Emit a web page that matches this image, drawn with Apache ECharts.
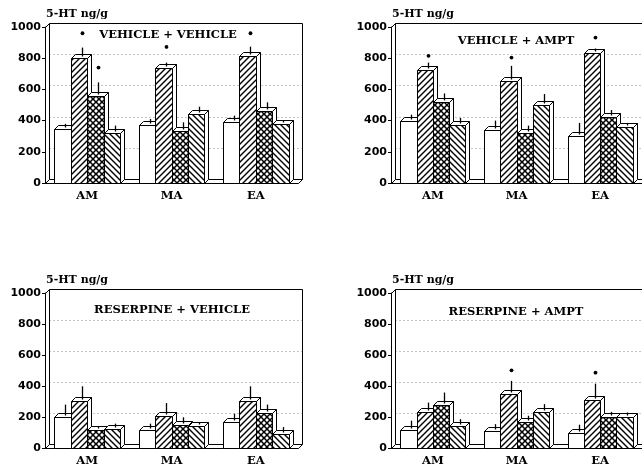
<!DOCTYPE html>
<html><head><meta charset="utf-8">
<script src="https://cdn.jsdelivr.net/npm/echarts@6/dist/echarts.min.js"></script>
<style>html,body{margin:0;padding:0;background:#fff}#c{width:642px;height:467px}</style>
</head><body><div id="c"></div>
<script>
var categories = ['AM', 'MA', 'EA'];
var panelTitles = ['VEHICLE + VEHICLE', 'VEHICLE + AMPT', 'RESERPINE + VEHICLE', 'RESERPINE + AMPT'];
var yAxisTitle = '5-HT ng/g';
var yMin = 0, yMax = 1000, yStep = 200;
var gridValues = [200, 400, 600, 800];

// -1 = no significance mark
// Panel 1: VEHICLE + VEHICLE
var p1Open = [347, 374, 389],  p1OpenErr = [379, 410, 432],  p1OpenStar = [-1, -1, -1];
var p1Fwd  = [804, 734, 815],  p1FwdErr  = [868, 772, 874],  p1FwdStar  = [960, 872, 960];
var p1Cross= [560, 332, 464],  p1CrossErr= [645, 389, 517],  p1CrossStar= [740, -1, -1];
var p1Back = [319, 443, 379],  p1BackErr = [368, 489, 400],  p1BackStar = [-1, -1, -1];
// Panel 2: VEHICLE + AMPT
var p2Open = [400, 340, 304],  p2OpenErr = [438, 400, 385],  p2OpenStar = [-1, -1, -1];
var p2Fwd  = [726, 651, 832],  p2FwdErr  = [772, 751, 862],  p2FwdStar  = [815, 804, 932];
var p2Cross= [517, 323, 421],  p2CrossErr= [574, 368, 468],  p2CrossStar= [-1, -1, -1];
var p2Back = [374, 502, 362],  p2BackErr = [417, 570, 385],  p2BackStar = [-1, -1, -1];
// Panel 3: RESERPINE + VEHICLE
var p3Open = [198, 118, 168],  p3OpenErr = [280, 157, 221],  p3OpenStar = [-1, -1, -1];
var p3Fwd  = [301, 209, 305],  p3FwdErr  = [398, 290, 398],  p3FwdStar  = [-1, -1, -1];
var p3Cross= [114, 150, 226],  p3CrossErr= [140, 198, 280],  p3CrossStar= [-1, -1, -1];
var p3Back = [123, 144, 92],   p3BackErr = [157, 166, 135],  p3BackStar = [-1, -1, -1];
// Panel 4: RESERPINE + AMPT
var p4Open = [116, 107, 96],   p4OpenErr = [176, 154, 150],  p4OpenStar = [-1, -1, -1];
var p4Fwd  = [233, 347, 310],  p4FwdErr  = [293, 433, 415],  p4FwdStar  = [-1, 501, 486];
var p4Cross= [276, 169, 197],  p4CrossErr= [358, 208, 233],  p4CrossStar= [-1, -1, -1];
var p4Back = [143, 233, 197],  p4BackErr = [186, 283, 229],  p4BackStar = [-1, -1, -1];

var panels = [
  [[p1Open, p1OpenErr, p1OpenStar], [p1Fwd, p1FwdErr, p1FwdStar], [p1Cross, p1CrossErr, p1CrossStar], [p1Back, p1BackErr, p1BackStar]],
  [[p2Open, p2OpenErr, p2OpenStar], [p2Fwd, p2FwdErr, p2FwdStar], [p2Cross, p2CrossErr, p2CrossStar], [p2Back, p2BackErr, p2BackStar]],
  [[p3Open, p3OpenErr, p3OpenStar], [p3Fwd, p3FwdErr, p3FwdStar], [p3Cross, p3CrossErr, p3CrossStar], [p3Back, p3BackErr, p3BackStar]],
  [[p4Open, p4OpenErr, p4OpenStar], [p4Fwd, p4FwdErr, p4FwdStar], [p4Cross, p4CrossErr, p4CrossStar], [p4Back, p4BackErr, p4BackStar]]
];

var grids = [
  {left: 45, top: 27, width: 253, height: 156},
  {left: 391, top: 27, width: 251, height: 156},
  {left: 45, top: 293, width: 253, height: 155},
  {left: 391, top: 293, width: 251, height: 156}
];
var titlePos = [[168, 35], [516, 41], [172, 310], [516, 312]];

var DX = 4, DY = 4, BARW = 0.195;

function makePattern(kind) {
  var s = 6, c = document.createElement('canvas');
  c.width = s; c.height = s;
  var g = c.getContext('2d');
  g.fillStyle = '#fff'; g.fillRect(0, 0, s, s);
  g.strokeStyle = '#000';
  g.lineWidth = kind === 'cross' ? 1.5 : 1.4;
  function fwd() {
    g.beginPath();
    g.moveTo(-1, s + 1); g.lineTo(s + 1, -1);
    g.moveTo(-1, 1); g.lineTo(1, -1);
    g.moveTo(s - 1, s + 1); g.lineTo(s + 1, s - 1);
    g.stroke();
  }
  function back() {
    g.beginPath();
    g.moveTo(-1, -1); g.lineTo(s + 1, s + 1);
    g.moveTo(s - 1, -1); g.lineTo(s + 1, 1);
    g.moveTo(-1, s - 1); g.lineTo(1, s + 1);
    g.stroke();
  }
  if (kind === 'fwd') fwd();
  if (kind === 'back') back();
  if (kind === 'cross') { fwd(); back(); }
  return {image: c, repeat: 'repeat'};
}
var fills = ['#fff', makePattern('fwd'), makePattern('cross'), makePattern('back')];

function barRenderer(k) {
  return function (params, api) {
    var cat = api.value(0), v = api.value(1), e = api.value(2), st = api.value(3);
    var band = api.size([1, 0])[0];
    var base = api.coord([cat, 0]);
    var top = api.coord([cat, v]);
    var w = band * BARW;
    var x0 = Math.round(base[0] + (k - 2) * w) + 0.5;
    var x1 = Math.round(base[0] + (k - 1) * w) + 0.5;
    var yb = Math.round(base[1]) + 0.5;
    var yt = Math.round(top[1]) + 0.5;
    var ln = {stroke: '#000', lineWidth: 1, fill: '#fff'};
    var ch = [];
    ch.push({type: 'polygon', shape: {points: [[x1, yt], [x1 + DX, yt - DY], [x1 + DX, yb - DY], [x1, yb]]}, style: ln});
    ch.push({type: 'rect', shape: {x: x0, y: yt, width: x1 - x0, height: yb - yt}, style: {fill: fills[k], stroke: '#000', lineWidth: 1}});
    ch.push({type: 'polygon', shape: {points: [[x0, yt], [x0 + DX, yt - DY], [x1 + DX, yt - DY], [x1, yt]]}, style: ln});
    var xc = Math.round((x0 + x1) / 2 + DX / 2) + 0.5;
    var ye = api.coord([cat, e])[1];
    ch.push({type: 'line', shape: {x1: xc, y1: yt - DY / 2, x2: xc, y2: ye}, style: {stroke: '#000', lineWidth: 1.3}});
    if (st > 0) {
      var ys = api.coord([cat, st])[1];
      ch.push({type: 'circle', shape: {cx: xc, cy: ys, r: 1.9}, style: {fill: '#000'}});
    }
    return {type: 'group', children: ch};
  };
}

function frameRenderer(params, api) {
  var band = api.size([1, 0])[0];
  var c0 = api.coord([0, yMin]);
  var c2 = api.coord([categories.length - 1, yMin]);
  var xL = Math.round(c0[0] - band / 2) + 0.5;
  var xR = Math.round(c2[0] + band / 2) + 0.5;
  var y0 = Math.round(c0[1]) + 0.5;
  var yT = Math.round(api.coord([0, yMax])[1]) + 0.5;
  var s = {stroke: '#000', lineWidth: 1, fill: null};
  var ch = [];
  ch.push({type: 'polygon', shape: {points: [[xL, y0], [xL + DX, y0 - DY], [xR + DX, y0 - DY], [xR, y0]]}, style: {stroke: '#000', lineWidth: 1, fill: '#fff'}});
  for (var i = 0; i < gridValues.length; i++) {
    var yg = Math.round(api.coord([0, gridValues[i]])[1] - DY) + 0.5;
    ch.push({type: 'line', shape: {x1: xL + DX, y1: yg, x2: xR + DX, y2: yg}, style: {stroke: '#888', lineWidth: 1, lineDash: [1, 3]}});
  }
  ch.push({type: 'polyline', shape: {points: [[xL + DX, y0 - DY], [xL + DX, yT - DY], [xR + DX, yT - DY], [xR + DX, y0 - DY]]}, style: s});
  ch.push({type: 'line', shape: {x1: xL, y1: yT, x2: xL + DX, y2: yT - DY}, style: s});
  return {type: 'group', children: ch};
}

var serifBold = {fontFamily: 'DejaVu Serif', fontWeight: 'bold', color: '#000'};
var option = {
  animation: false,
  backgroundColor: '#fff',
  grid: grids,
  xAxis: grids.map(function (g, i) {
    return {
      type: 'category', gridIndex: i, data: categories,
      axisLine: {lineStyle: {color: '#000', width: 1}},
      axisTick: {alignWithLabel: true, length: 3, lineStyle: {color: '#000'}},
      axisLabel: Object.assign({fontSize: 11.5, margin: 7}, serifBold),
      splitLine: {show: false}
    };
  }),
  yAxis: grids.map(function (g, i) {
    return {
      type: 'value', gridIndex: i, min: yMin, max: yMax, interval: yStep,
      name: yAxisTitle, nameLocation: 'end', nameGap: 7,
      nameTextStyle: Object.assign({fontSize: 11, align: 'left', padding: [0, 0, 0, 1]}, serifBold),
      axisLine: {show: true, lineStyle: {color: '#000', width: 1}},
      axisTick: {show: true, length: 3, lineStyle: {color: '#000'}},
      axisLabel: {fontFamily: 'DejaVu Sans', fontWeight: 'bold', fontSize: 11, color: '#000', margin: 4,
        formatter: function (v) { return String(v); }},
      splitLine: {show: false}
    };
  }),
  graphic: panelTitles.map(function (t, i) {
    return {type: 'text', x: titlePos[i][0], y: titlePos[i][1], z: 10,
      style: {text: t, textAlign: 'center', textVerticalAlign: 'middle', fontFamily: 'DejaVu Serif', fontWeight: 'bold', fontSize: 11.5, fill: '#000'}};
  }),
  series: []
};

panels.forEach(function (panel, p) {
  option.series.push({type: 'custom', xAxisIndex: p, yAxisIndex: p, renderItem: frameRenderer, data: [[0, 0]], silent: true, z: 1});
  panel.forEach(function (ser, k) {
    var data = categories.map(function (c, i) { return [i, ser[0][i], ser[1][i], ser[2][i]]; });
    option.series.push({type: 'custom', xAxisIndex: p, yAxisIndex: p, renderItem: barRenderer(k), data: data, silent: true, z: 2,
      encode: {x: 0, y: [1, 2]}});
  });
});

var chart = echarts.init(document.getElementById('c'), null, {renderer: 'canvas'});
chart.setOption(option);
</script></body></html>
